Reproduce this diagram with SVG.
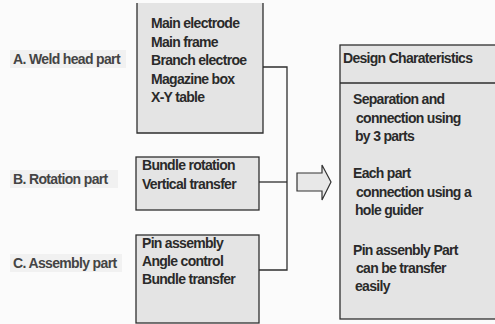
<svg xmlns="http://www.w3.org/2000/svg" width="495" height="324" viewBox="0 0 495 324">
<style>
.bg{fill:#fbfbfb}
.box{fill:#e4e4e4;stroke:#2e2e2e;stroke-width:1.3}
.lbl{fill:#f1f1f1}
.t{font-family:"Liberation Sans",Arial,sans-serif;font-weight:bold;font-size:14px;letter-spacing:-0.7px;fill:#2a2a2a}
.l{font-family:"Liberation Sans",Arial,sans-serif;font-weight:bold;font-size:14px;letter-spacing:-0.65px;fill:#444}
.c{fill:none;stroke:#2e2e2e;stroke-width:1.3}
</style>
<rect class="bg" x="0" y="0" width="495" height="324"/>
<g id="labelA"><rect class="lbl" x="10" y="50" width="116" height="18"/><text class="l" x="13" y="64">A. Weld head part</text></g>
<g id="labelB"><rect class="lbl" x="10" y="170" width="108" height="18"/><text class="l" x="13" y="184">B. Rotation part</text></g>
<g id="labelC"><rect class="lbl" x="10" y="254" width="112" height="18"/><text class="l" x="13" y="268">C. Assembly part</text></g>
<g id="boxA">
<rect x="137" y="3" width="126" height="130" fill="#e4e4e4"/>
<path class="c" d="M137,3 V133 H263 V3"/>
<text class="t" x="151" y="28">Main electrode</text>
<text class="t" x="151" y="46.5">Main frame</text>
<text class="t" x="151" y="65">Branch electroe</text>
<text class="t" x="151" y="83.5">Magazine box</text>
<text class="t" x="151" y="102">X-Y table</text>
</g>
<g id="boxB">
<rect class="box" x="136" y="157" width="123" height="53"/>
<text class="t" x="142" y="170">Bundle rotation</text>
<text class="t" x="142" y="189">Vertical transfer</text>
</g>
<g id="boxC">
<rect class="box" x="136" y="235" width="123" height="88"/>
<text class="t" x="142" y="248">Pin assembly</text>
<text class="t" x="142" y="266">Angle control</text>
<text class="t" x="142" y="284">Bundle transfer</text>
</g>
<g id="connectors">
<path class="c" d="M263,67 H287 V270 H259"/>
<path class="c" d="M259,182 H287"/>
</g>
<g id="arrow">
<polygon points="297,173 322,173 322,165 331,182 322,200 322,191 297,191" fill="#e8e8e8" stroke="#333" stroke-width="1.2"/>
</g>
<g id="design">
<rect class="box" x="340" y="45" width="160" height="274"/>
<line class="c" x1="340" y1="83" x2="495" y2="83"/>
<text class="t" x="343" y="63">Design Charateristics</text>
<text class="t" x="353" y="104">Separation and</text>
<text class="t" x="356" y="122.5">connection using</text>
<text class="t" x="355" y="141">by 3 parts</text>
<text class="t" x="353" y="178">Each part</text>
<text class="t" x="356" y="196.5">connection using a</text>
<text class="t" x="355" y="215">hole guider</text>
<text class="t" x="353" y="255">Pin assenbly Part</text>
<text class="t" x="356" y="273">can be transfer</text>
<text class="t" x="355" y="291">easily</text>
</g>
</svg>
